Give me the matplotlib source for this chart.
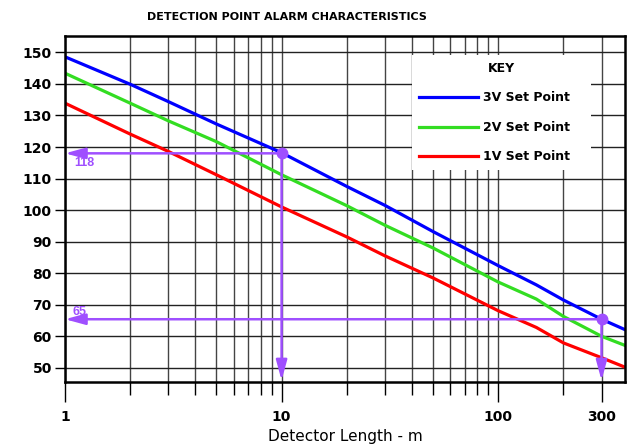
import matplotlib
matplotlib.use("Agg")
import matplotlib.pyplot as plt
import numpy as np
from matplotlib.ticker import FixedLocator, NullFormatter

plt.rcParams['font.family'] = ['DejaVu Sans']

# values
length = [1, 2, 3, 5, 10, 20, 30, 50, 100, 150, 200, 300, 385]
set_3v = [148.6, 139.9, 134.4, 127.3, 118.2, 107.5, 101.5, 93.2, 82.4, 76.3, 71.5, 65.4, 62.1]
set_2v = [143.4, 133.9, 128.3, 121.7, 111.2, 101.4, 95.2, 88.0, 77.2, 71.8, 66.3, 60.0, 57.1]
set_1v = [133.9, 124.1, 118.6, 111.2, 101.0, 91.5, 85.5, 78.5, 68.1, 62.8, 57.9, 53.2, 50.2]

# worked examples (length, alarm point)
examples = [(10, 118), (300, 65.4)]
example_labels = ["118", "65"]
label_pos = [(1.1, 114.9), (1.08, 67.6)]

major_x = [1, 10, 100, 300]
minor_x = [2, 3, 4, 5, 6, 7, 8, 9, 20, 30, 40, 50, 60, 70, 80, 90, 200]
y_ticks = list(range(50, 151, 10))

purple = '#9F4FFF'

fig = plt.figure(figsize=(6.27, 4.46), dpi=100)
ax = fig.add_axes([65/627, 64/446, 560/627, 346/446])

ax.set_xscale('log')
ax.set_xlim(1, 385)
ax.set_ylim(45.5, 155.2)

ax.xaxis.set_major_locator(FixedLocator(major_x))
ax.xaxis.set_minor_locator(FixedLocator(minor_x))
ax.xaxis.set_minor_formatter(NullFormatter())
ax.set_xticklabels([str(v) for v in major_x])
ax.set_yticks(y_ticks)

ax.grid(True, which='both', axis='x', color='#444444', lw=1.0, zorder=1)
ax.grid(True, which='major', axis='y', color='#222222', lw=1.0, zorder=1)
ax.tick_params(axis='x', which='major', length=14.5, width=1.0, pad=6,
               labelsize=10, direction='out')
ax.tick_params(axis='x', which='minor', length=9.5, width=1.0, direction='out')
ax.tick_params(axis='y', which='major', length=7.5, width=1.0, pad=2,
               labelsize=10, direction='out')
for lbl in ax.get_xticklabels() + ax.get_yticklabels():
    lbl.set_fontweight('bold')
for s in ax.spines.values():
    s.set_linewidth(1.8)
    s.set_zorder(6)

ax.plot(length, set_3v, color='#0000FF', lw=2.3, label='3V Set Point', zorder=3)
ax.plot(length, set_2v, color='#33DD22', lw=2.3, label='2V Set Point', zorder=3)
ax.plot(length, set_1v, color='#FF0000', lw=2.3, label='1V Set Point', zorder=3)

# example read-offs
arrow_style = '-|>,head_length=1.1,head_width=0.3'
for (xv, yv), lab, (tx, ty) in zip(examples, example_labels, label_pos):
    ax.annotate('', xy=(1.0, yv), xytext=(xv, yv),
                arrowprops=dict(arrowstyle=arrow_style, color=purple, lw=1.8,
                                mutation_scale=11, shrinkA=0, shrinkB=0),
                zorder=4)
    ax.annotate('', xy=(xv, 46.0), xytext=(xv, yv),
                arrowprops=dict(arrowstyle=arrow_style, color=purple, lw=1.8,
                                mutation_scale=11, shrinkA=0, shrinkB=0),
                zorder=4)
    ax.plot([xv], [yv], 'o', color=purple, ms=7.5, zorder=5)
    ax.text(tx, ty, lab, color=purple, fontsize=9, family='Liberation Sans',
            fontweight='bold', va='center', ha='left', zorder=5)

leg = ax.legend(loc='upper left', bbox_to_anchor=(0.62, 0.598, 0.32, 0.347),
                mode='expand', title='KEY', frameon=True, fancybox=False,
                handlelength=4.7, handletextpad=0.45, labelspacing=1.32,
                borderpad=0.55, borderaxespad=0,
                prop={'weight': 'bold', 'size': 9})
leg.get_title().set_fontweight('bold')
leg.get_title().set_fontsize(9)
leg.get_frame().set_edgecolor('none')
leg.get_frame().set_facecolor('white')
leg.get_frame().set_alpha(1.0)
leg.set_zorder(5)

ax.set_xlabel('Detector Length - m', fontsize=11, labelpad=3)
fig.text(287/627, 1 - 17/446, 'DETECTION POINT ALARM CHARACTERISTICS',
         ha='center', va='center', fontsize=8, fontweight='bold')

fig.savefig('out.png', dpi=100)
